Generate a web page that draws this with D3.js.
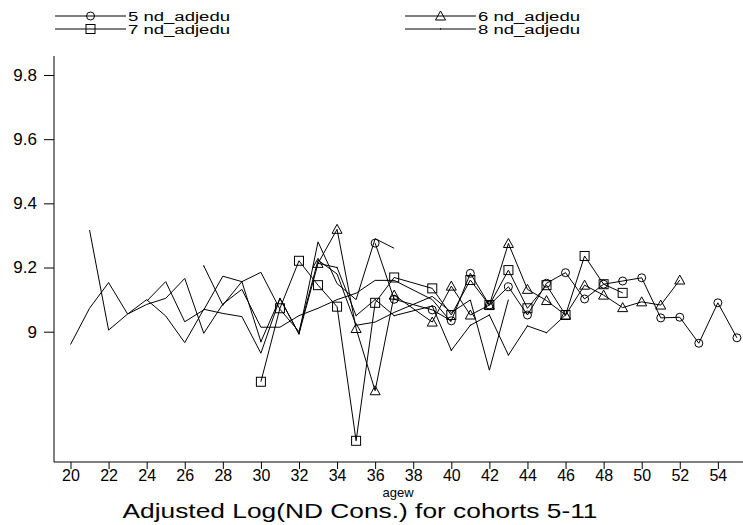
<!DOCTYPE html>
<html><head><meta charset="utf-8">
<script src="https://cdn.jsdelivr.net/npm/d3@7"></script>
<style>body{margin:0;background:#fff}svg{display:block}text{font-family:Arial,"Liberation Sans",sans-serif;fill:#000}</style>
</head><body><svg id="c" width="743" height="525"></svg>
<script>
// ages (wave 38 missing for every cohort)
const agesC5 = [36,37,39,40,41,42,43,44,45,46,47,48,49,50,51,52,53,54,55];
const valsC5 = [9.276,9.101,9.068,9.034,9.182,9.083,9.140,9.052,9.151,9.184,9.102,9.148,9.158,9.168,9.043,9.045,8.964,9.090,8.981];
const agesC6 = [33,34,35,36,37,39,40,41,42,43,44,45,46,47,48,49,50,51,52];
const valsC6 = [9.213,9.319,9.010,8.816,9.114,9.030,9.142,9.052,9.083,9.275,9.132,9.097,9.052,9.145,9.114,9.075,9.093,9.083,9.161];
const agesC7 = [30,31,32,33,34,35,36,37,39,40,41,42,43,44,45,46,47,48,49];
const valsC7 = [8.844,9.073,9.221,9.145,9.078,8.660,9.090,9.169,9.135,9.052,9.161,9.083,9.192,9.073,9.145,9.052,9.236,9.148,9.121];
const agesC8 = [27,28,29,30,31,32,33,34,35,36,37,39,40,41,42,43,44,45,46];
const valsC8 = [9.205,9.083,9.156,8.969,9.104,8.993,9.213,9.200,9.050,9.100,9.050,9.080,8.942,9.020,9.052,8.927,9.018,8.997,9.052];
const agesC9 = [24,25,26,27,28,29,30,31,32,33,34,35,36,37,39,40,41,42,43];
const valsC9 = [9.095,9.156,9.031,9.068,9.173,9.156,9.185,9.070,9.000,9.223,9.180,9.020,9.030,9.060,9.110,9.060,9.099,8.880,9.100];
const agesC10 = [21,22,23,24,25,26,27,28,29,30,31,32,33,34,35,36,37,39,40];
const valsC10 = [9.317,9.005,9.055,9.085,9.104,9.166,8.995,9.086,9.132,9.014,9.014,9.050,9.073,9.100,9.120,9.160,9.160,9.100,9.030];
const agesC11 = [20,21,22,23,24,25,26,27,28,29,30,31,32,33,34,35,36,37];
const valsC11 = [8.960,9.073,9.153,9.055,9.100,9.049,8.966,9.070,9.057,9.047,8.933,9.104,8.993,9.280,9.150,9.100,9.290,9.260];

const xTicks = [20,22,24,26,28,30,32,34,36,38,40,42,44,46,48,50,52,54];
const yTicks = [9,9.2,9.4,9.6,9.8];
const yTickLabels = ["9","9.2","9.4","9.6","9.8"];
const legendLabels = ["5 nd_adjedu","6 nd_adjedu","7 nd_adjedu","8 nd_adjedu"];
const xTitle = "agew";
const chartTitle = "Adjusted Log(ND Cons.) for  cohorts 5-11";

const series = [
  {ages:agesC5, vals:valsC5, sym:"circle"},
  {ages:agesC6, vals:valsC6, sym:"triangle"},
  {ages:agesC7, vals:valsC7, sym:"square"},
  {ages:agesC8, vals:valsC8, sym:"dot"},
  {ages:agesC9, vals:valsC9, sym:"none"},
  {ages:agesC10, vals:valsC10, sym:"none"},
  {ages:agesC11, vals:valsC11, sym:"none"}
];

const svg = d3.select("#c");
const x = d3.scaleLinear().domain([20,55]).range([70.5,736.9]);
const y = d3.scaleLinear().domain([9,9.8]).range([331.7,75]);
const axisY0 = 462, axisX0 = 54;

// axes
const gx = svg.append("g").attr("transform",`translate(0,${axisY0})`)
  .call(d3.axisBottom(x).tickValues(xTicks).tickSize(7).tickPadding(1).tickFormat(d3.format("d")));
gx.select(".domain").remove();
gx.append("line").attr("x1",axisX0).attr("x2",743).attr("stroke","#000");
gx.selectAll("text").attr("font-size",16).attr("fill","#000");
const gy = svg.append("g").attr("transform",`translate(${axisX0},0)`)
  .call(d3.axisLeft(y).tickValues(yTicks).tickSize(10).tickPadding(7).tickFormat((d,i)=>yTickLabels[i]));
gy.select(".domain").remove();
gy.append("line").attr("y1",56).attr("y2",axisY0).attr("stroke","#000");
gy.selectAll("text").attr("font-size",17).attr("fill","#000");

const line = d3.line().x(d=>x(d[0])).y(d=>y(d[1]));
const plot = svg.append("g");
function marker(g, sym, cx, cy){
  if(sym==="circle") g.append("circle").attr("cx",cx).attr("cy",cy).attr("r",4).attr("fill","none").attr("stroke","#000");
  else if(sym==="square") g.append("rect").attr("x",cx-4.5).attr("y",cy-4.5).attr("width",9).attr("height",9).attr("fill","none").attr("stroke","#000");
  else if(sym==="triangle") g.append("path").attr("d",`M${cx},${cy-5}L${cx+5},${cy+4}L${cx-5},${cy+4}Z`).attr("fill","none").attr("stroke","#000");
  else if(sym==="dot") g.append("circle").attr("cx",cx).attr("cy",cy).attr("r",0.7).attr("fill","#000");
}
series.forEach(s=>{
  const pts = s.ages.map((a,i)=>[a,s.vals[i]]);
  plot.append("path").attr("d",line(pts)).attr("fill","none").attr("stroke","#000").attr("stroke-width",1);
  pts.forEach(p=>marker(plot,s.sym,x(p[0]),y(p[1])));
});

// legend
const leg = svg.append("g");
const legPos = [[55,16],[405,16],[55,29],[405,29]];
legendLabels.forEach((t,i)=>{
  const [lx,ly] = legPos[i];
  leg.append("line").attr("x1",lx).attr("x2",lx+71).attr("y1",ly).attr("y2",ly).attr("stroke","#000");
  marker(leg, series[i].sym, lx+35.5, ly);
  leg.append("text").attr("x",lx+73).attr("y",ly+4.5).attr("font-size",12)
    .attr("textLength",102).attr("lengthAdjust","spacingAndGlyphs").text(t);
});

svg.append("text").attr("x",398).attr("y",497).attr("text-anchor","middle").attr("font-size",13).text(xTitle);
svg.append("text").attr("x",360).attr("y",518).attr("text-anchor","middle").attr("font-size",21)
  .attr("textLength",475).attr("lengthAdjust","spacingAndGlyphs").text(chartTitle);
</script></body></html>
